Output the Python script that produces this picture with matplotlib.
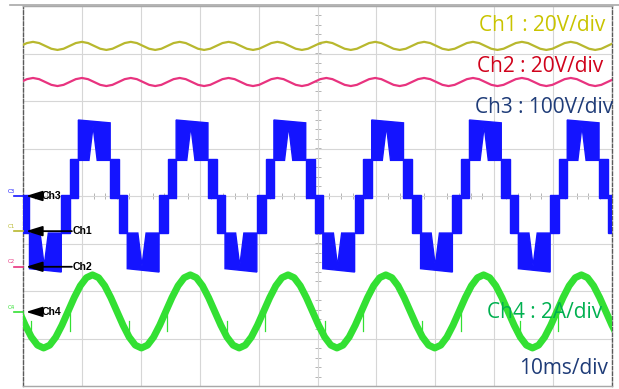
import matplotlib
matplotlib.use('Agg')

import numpy as np
import matplotlib.pyplot as plt
from matplotlib.patches import Polygon

W, H = 619, 389

# everything below is in scope divisions (10 x 8 screen, 10 ms/div)
PERIOD = 1.66
RIPPLE_PERIOD = 0.83

# Ch1 / Ch2: dc voltages with 120 Hz ripple
CH1_LEVEL = 3.16
CH2_LEVEL = 2.40
RIPPLE_CYCLE = [0.085, 0.06, 0.0, -0.06, -0.085, -0.06, 0.0, 0.06]
RIPPLE_PEAKS = [-0.66, 0.17, 1.00, 1.83, 2.66, 3.49, 4.32, 5.15, 5.98,
                6.81, 7.64, 8.47, 9.30, 10.13]

# Ch3: multilevel output voltage (staircase, PWM between levels)
CH3_PEAKS = [-0.45, 1.21, 2.87, 4.53, 6.19, 7.85, 9.51, 11.17]
CH3_L2 = (1.60, 1.54)     # top level, left / right edge of the step
CH3_L1 = 0.75
CH3_M1 = -0.78
CH3_M2 = (-1.53, -1.60)
TOP_HALF = 0.27
STEP_W = 0.15
NOTCH_HALF = 0.07
NOTCH_TIP = 1.47

# Ch4: load current
CH4_LEVEL = -2.43
CH4_PEAKS = [-0.48, 1.18, 2.84, 4.50, 6.16, 7.82, 9.48, 11.14]
CH4_CYCLE = [0.77, 0.71, 0.54, 0.29, 0.0, -0.29, -0.54, -0.71,
             -0.77, -0.71, -0.54, -0.29, 0.0, 0.29, 0.54, 0.71]
# switching spikes: offset from current peak, low, high (relative to level)
CH4_SPIKES = [(-0.39, -0.42, 0.0), (0.62, -0.55, -0.20)]

# channel ground markers on the left edge
MARKERS = [("Ch3", "C3", 0.0, '#1414ff', False),
           ("Ch1", "C1", -0.74, '#b8b82e', True),
           ("Ch2", "C2", -1.49, '#e8337f', True),
           ("Ch4", "C4", -2.44, '#33e033', False)]

LABELS = [("Ch1 : 20V/div", '#c9c400', 605, 31),
          ("Ch2 : 20V/div", '#d0021b', 603, 72),
          ("Ch3 : 100V/div", '#1f3c78', 613, 113),
          ("Ch4 : 2A/div", '#00b050', 602, 318),
          ("10ms/div", '#1f3c78', 608, 374)]


def tile(peaks, cycle, period):
    xs, ys = [], []
    step = period / len(cycle)
    for p in peaks:
        for k, v in enumerate(cycle):
            xs.append(p + k * step)
            ys.append(v)
    return np.array(xs), np.array(ys)


def ch3_patches(ax, c, color):
    # positive step with notch opening to the bottom
    a = [(c - TOP_HALF, CH3_L1), (c - TOP_HALF, CH3_L2[0]),
         (c + TOP_HALF, CH3_L2[1]), (c + TOP_HALF, CH3_L1),
         (c - 0.02 + NOTCH_HALF, CH3_L1), (c - 0.02, NOTCH_TIP),
         (c - 0.02 - NOTCH_HALF, CH3_L1)]
    d = c + PERIOD / 2
    b = [(d - TOP_HALF, CH3_M1), (d - TOP_HALF, CH3_M2[0]),
         (d + TOP_HALF, CH3_M2[1]), (d + TOP_HALF, CH3_M1),
         (d - 0.02 + NOTCH_HALF, CH3_M1), (d - 0.02, -NOTCH_TIP),
         (d - 0.02 - NOTCH_HALF, CH3_M1)]
    for pts in (a, b):
        ax.add_patch(Polygon(pts, closed=True, color=color, lw=1.0, zorder=3))
    # intermediate steps
    x0 = c + TOP_HALF
    x1 = d - TOP_HALF
    for lo, hi, xa, xb in [(-0.04, CH3_L1 + 0.02, x0, x0 + STEP_W),
                           (CH3_M1, 0.02, x0 + STEP_W, x1),
                           (CH3_M1, 0.02, d + TOP_HALF, d + TOP_HALF + STEP_W),
                           (-0.04, CH3_L1 + 0.02, d + TOP_HALF + STEP_W,
                            c + PERIOD - TOP_HALF)]:
        ax.add_patch(Polygon([(xa, lo), (xa, hi), (xb, hi), (xb, lo)],
                             closed=True, color=color, lw=1.0, zorder=3))


fig = plt.figure(figsize=(W / 100, H / 100), dpi=100)
fig.patch.set_facecolor('white')
ax = fig.add_axes([23 / W, 3 / H, 589 / W, 380 / H])
ax.set_xlim(0, 10)
ax.set_ylim(-4, 4)

# graticule
ax.set_xticks(range(11))
ax.set_yticks(range(-4, 5))
ax.tick_params(length=0, labelbottom=False, labelleft=False)
ax.grid(True, color='#d6d6d6', lw=0.8)
minor_x = np.arange(0, 10.01, 0.2)
minor_y = np.arange(-4, 4.01, 0.2)
ax.plot(minor_x, np.zeros_like(minor_x), ls='none', marker='|', ms=4,
        mew=0.7, color='#b4b4b4', zorder=1)
ax.plot(np.full_like(minor_y, 5), minor_y, ls='none', marker='_', ms=4,
        mew=0.7, color='#b4b4b4', zorder=1)
for side in ('top', 'bottom'):
    ax.spines[side].set_color('#a8a8a8')
    ax.spines[side].set_linewidth(1.0)
for side in ('left', 'right'):
    ax.spines[side].set_color('#5a5a5a')
    ax.spines[side].set_linewidth(1.0)
    ax.spines[side].set_linestyle((0, (2.5, 1.5)))
fig.add_artist(plt.Line2D([10 / W, 1], [1 - 5 / H, 1 - 5 / H],
                          color='#a8a8a8', lw=1.2))

# Ch1, Ch2 ripple
rx, ry = tile(RIPPLE_PEAKS, RIPPLE_CYCLE, RIPPLE_PERIOD)
ax.plot(rx, CH1_LEVEL + ry, color='#b8b82e', lw=1.6, zorder=3)
ax.plot(rx, CH2_LEVEL + ry, color='#e8337f', lw=1.6, zorder=3)

# Ch3 staircase
for c in CH3_PEAKS:
    ch3_patches(ax, c, '#1414ff')

# Ch4 current
cx, cy = tile(CH4_PEAKS, CH4_CYCLE, PERIOD)
ax.plot(cx, CH4_LEVEL + cy, color='#33e033', lw=5.0, zorder=4,
        solid_joinstyle='round')
for p in CH4_PEAKS:
    for off, lo, hi in CH4_SPIKES:
        ax.plot([p + off, p + off], [CH4_LEVEL + lo, CH4_LEVEL + hi],
                color='#33e033', lw=0.9, zorder=4)

# ground markers and arrows
for name, tag, lvl, col, long_arrow in MARKERS:
    ax.plot([-0.15, 0.0], [lvl, lvl], color=col, lw=1.2, clip_on=False, zorder=5)
    ax.text(-0.19, lvl + 0.05, tag, color=col, fontsize=4, ha='center',
            va='bottom', clip_on=False)
    tail = 0.83 if long_arrow else 0.29
    ax.annotate('', xy=(0.05, lvl), xytext=(tail, lvl),
                arrowprops=dict(arrowstyle='-|>,head_length=0.55,head_width=0.17',
                                mutation_scale=18, color='black', lw=1.3,
                                shrinkA=0, shrinkB=0), zorder=6)
    ax.text(tail + 0.02, lvl, name, fontsize=7.6, family='Liberation Sans',
            weight='bold', ha='left', va='center', color='black', zorder=6)

# scale labels
for txt, col, xr, yb in LABELS:
    fig.text(xr / W, 1 - yb / H, txt, color=col, fontsize=15,
             family='Open Sans', ha='right', va='baseline', zorder=10)

fig.savefig('out.png', dpi=100, facecolor='white')
